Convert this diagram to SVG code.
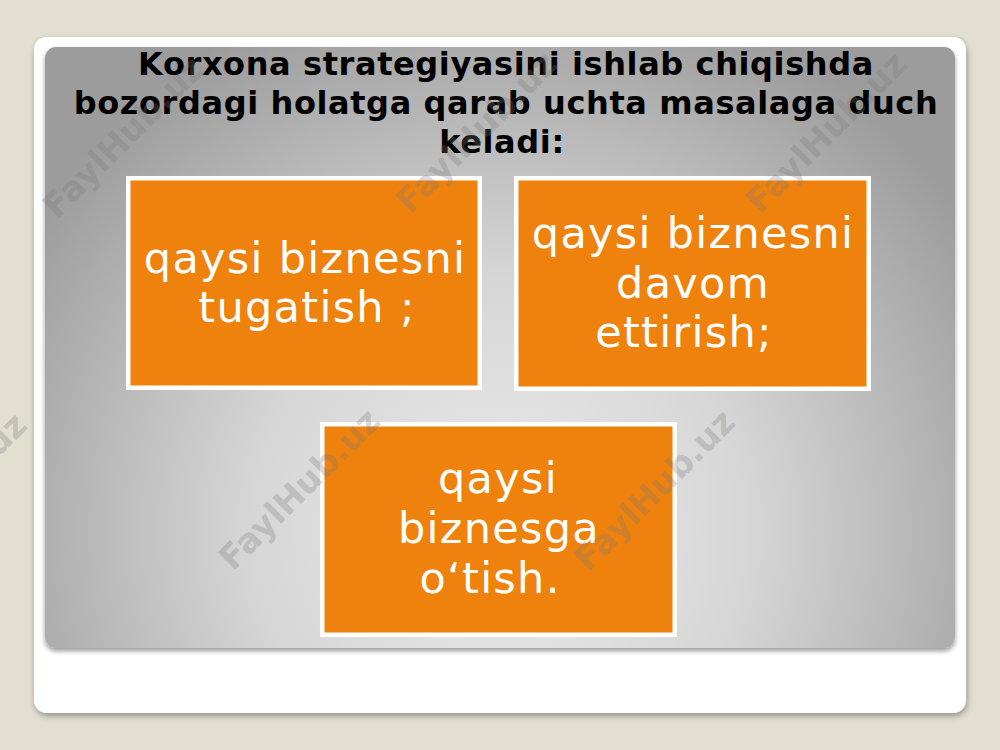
<svg xmlns="http://www.w3.org/2000/svg" width="1000" height="750" viewBox="0 0 1000 750">
  <defs>
    <radialGradient id="panelGrad" gradientUnits="userSpaceOnUse" cx="500" cy="530" r="560" fx="500" fy="530">
      <stop offset="0" stop-color="#ebebeb"/>
      <stop offset="0.45" stop-color="#d6d6d6"/>
      <stop offset="1" stop-color="#9c9c9c"/>
    </radialGradient>
    <filter id="cardShadow" x="-5%" y="-5%" width="110%" height="110%">
      <feGaussianBlur in="SourceAlpha" stdDeviation="3"/>
      <feOffset dx="1" dy="3" result="b"/>
      <feComponentTransfer><feFuncA type="linear" slope="0.35"/></feComponentTransfer>
      <feMerge><feMergeNode/><feMergeNode in="SourceGraphic"/></feMerge>
    </filter>
    <filter id="panelShadow" x="-5%" y="-5%" width="110%" height="110%">
      <feGaussianBlur in="SourceAlpha" stdDeviation="2.5"/>
      <feOffset dx="0" dy="3" result="b"/>
      <feComponentTransfer><feFuncA type="linear" slope="0.4"/></feComponentTransfer>
      <feMerge><feMergeNode/><feMergeNode in="SourceGraphic"/></feMerge>
    </filter>
  </defs>
  <style>
    .title { font-family: "DejaVu Sans", Verdana, sans-serif; font-weight: bold; font-size: 32px; letter-spacing: 0.6px; fill: #000; }
    .box { fill: #ef820d; stroke: #ffffff; stroke-width: 4.5; }
    .label { font-family: "DejaVu Sans", Verdana, sans-serif; font-size: 43px; letter-spacing: 1.3px; fill: #ffffff; text-anchor: middle; }
    .wm { font-family: "DejaVu Sans", Verdana, sans-serif; font-weight: bold; font-size: 34px; fill: #7a7a7a; fill-opacity: 0.3; }
  </style>

  <rect x="0" y="0" width="1000" height="750" fill="#e2dfd1"/>

  <g id="card">
    <rect x="34" y="37" width="932" height="676" rx="13" ry="13" fill="#ffffff" filter="url(#cardShadow)"/>
  </g>
  <g id="panel">
    <rect x="45" y="47" width="910" height="601" rx="11" ry="11" fill="url(#panelGrad)" filter="url(#panelShadow)"/>
  </g>

  <g id="title">
    <text class="title" text-anchor="middle"><tspan x="506" y="75">Korxona strategiyasini ishlab chiqishda</tspan><tspan x="506" y="114">bozordagi holatga qarab uchta masalaga duch</tspan><tspan x="502" y="153">keladi:</tspan></text>
  </g>

  <g id="connectors"></g>

  <g id="node1">
    <rect class="box" x="128.25" y="178.25" width="351.5" height="209.5"/>
    <text class="label"><tspan x="305" y="273">qaysi biznesni</tspan><tspan x="307" y="322">tugatish ;</tspan></text>
  </g>
  <g id="node2">
    <rect class="box" x="516.25" y="178.25" width="352.5" height="210.5"/>
    <text class="label"><tspan x="693" y="248">qaysi biznesni</tspan><tspan x="693" y="298">davom</tspan><tspan x="684" y="347">ettirish;</tspan></text>
  </g>
  <g id="node3">
    <rect class="box" x="322.25" y="424.25" width="352.5" height="210.5"/>
    <text class="label"><tspan x="498" y="493">qaysi</tspan><tspan x="499" y="543">biznesga</tspan><tspan x="490" y="593">o‘tish.</tspan></text>
  </g>

  <g id="watermarks">
    <text class="wm" transform="translate(57,220) rotate(-45)">FaylHub.uz</text>
    <text class="wm" transform="translate(410,215) rotate(-45)">FaylHub.uz</text>
    <text class="wm" transform="translate(760,215) rotate(-45)">FaylHub.uz</text>
    <text class="wm" transform="translate(-120,576) rotate(-45)">FaylHub.uz</text>
    <text class="wm" transform="translate(233,572) rotate(-45)">FaylHub.uz</text>
    <text class="wm" transform="translate(588,573) rotate(-45)">FaylHub.uz</text>
  </g>
</svg>
